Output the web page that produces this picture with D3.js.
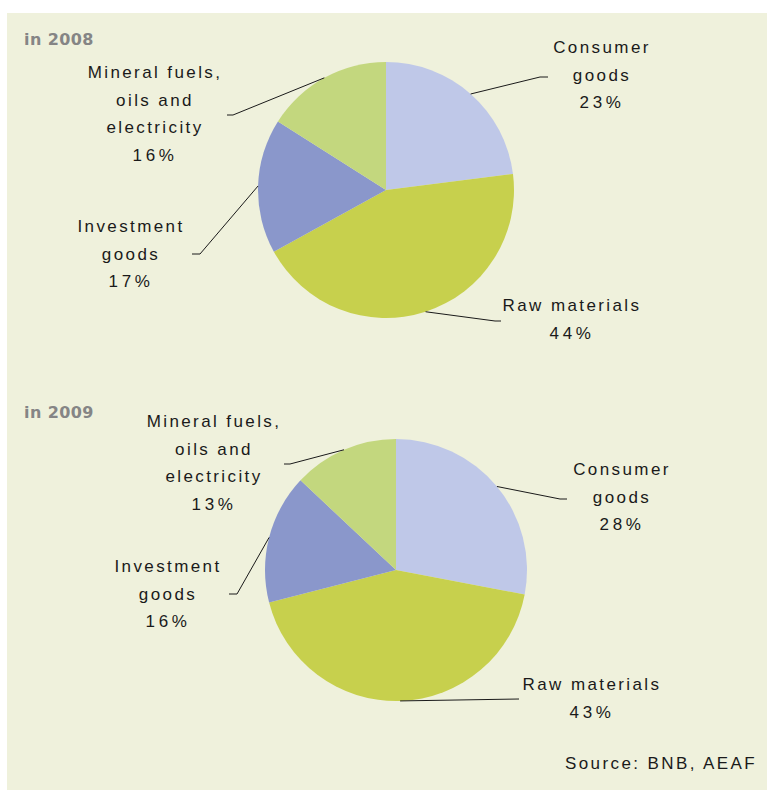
<html>
<head>
<script src="https://d3js.org/d3.v7.min.js"></script>
<style>
  body { margin: 0; background: #fff; }
  .lbl { font-family: "Liberation Sans", Arial, sans-serif; font-size: 17px; fill: #1a1a1a; letter-spacing: 2.4px; }
  .pct { letter-spacing: 3.6px; }
  .year { font-family: "DejaVu Sans", sans-serif; font-size: 16px; font-weight: bold; fill: #858585; letter-spacing: 0.4px; }
  .leader { fill: none; stroke: #1a1a1a; stroke-width: 1px; }
</style>
</head>
<body>
<script>
var categories = ["Consumer goods", "Raw materials", "Investment goods", "Mineral fuels, oils and electricity"];
var labelLines = [["Consumer", "goods"], ["Raw materials"], ["Investment", "goods"], ["Mineral fuels,", "oils and", "electricity"]];
var shares2008 = [23, 44, 17, 16];
var shares2009 = [28, 43, 16, 13];
var years = ["in 2008", "in 2009"];
var colors = ["#bfc8e8", "#c7d04d", "#8a97cb", "#c3d77e"];
var source = "Source: BNB, AEAF";

var width = 767, height = 790;

var svg = d3.select("body").append("svg")
    .attr("width", width)
    .attr("height", height);

svg.append("rect")
    .attr("x", 7).attr("y", 13)
    .attr("width", width - 7).attr("height", height - 13)
    .attr("fill", "#eff1dc");

// layout for each pie: centre, radius, title, label anchors and leader elbows
var panels = [
    {
        values: shares2008, title: years[0], cx: 386, cy: 190, r: 128, titleY: 45,
        labels: [
            {x: 602, y: 53, elbow: [540, 77], tick: 8},
            {x: 572, y: 311, elbow: [495, 321], tick: 6},
            {x: 131, y: 232, elbow: [200, 254], tick: -8},
            {x: 155, y: 78, elbow: [233, 115], tick: -6}
        ]
    },
    {
        values: shares2009, title: years[1], cx: 396, cy: 570, r: 131, titleY: 418,
        labels: [
            {x: 622, y: 475, elbow: [560, 499], tick: 7},
            {x: 592, y: 690, elbow: [519, 699], tick: 0},
            {x: 168, y: 572, elbow: [237, 594], tick: -8},
            {x: 214, y: 427, elbow: [290, 464], tick: -6}
        ]
    }
];

var pie = d3.pie().sort(null).value(function (d) { return d; });
var lineH = 27.5;

panels.forEach(function (p) {
    var g = svg.append("g").attr("transform", "translate(" + p.cx + "," + p.cy + ")");
    var arc = d3.arc().innerRadius(0).outerRadius(p.r);
    var arcs = pie(p.values);

    g.selectAll("path.slice")
        .data(arcs)
        .enter().append("path")
        .attr("class", "slice")
        .attr("d", arc)
        .attr("fill", function (d, i) { return colors[i]; });

    svg.append("text")
        .attr("class", "year")
        .attr("x", 24).attr("y", p.titleY)
        .text(p.title);

    arcs.forEach(function (a, i) {
        var lab = p.labels[i];
        var mid = (a.startAngle + a.endAngle) / 2;
        var sx = p.cx + p.r * Math.sin(mid),
            sy = p.cy - p.r * Math.cos(mid);
        svg.append("path")
            .attr("class", "leader")
            .attr("d", "M" + sx + "," + sy + "L" + lab.elbow[0] + "," + lab.elbow[1] +
                "l" + lab.tick + ",0");

        var lines = labelLines[i].concat([p.values[i] + "%"]);
        var t = svg.append("text")
            .attr("class", "lbl")
            .attr("text-anchor", "middle");
        lines.forEach(function (s, k) {
            t.append("tspan")
                .attr("class", k === lines.length - 1 ? "pct" : null)
                .attr("x", lab.x)
                .attr("y", lab.y + k * lineH)
                .text(s);
        });
    });
});

svg.append("text")
    .attr("class", "lbl")
    .attr("text-anchor", "end")
    .attr("x", 757).attr("y", 769)
    .text(source);
</script>
</body>
</html>
